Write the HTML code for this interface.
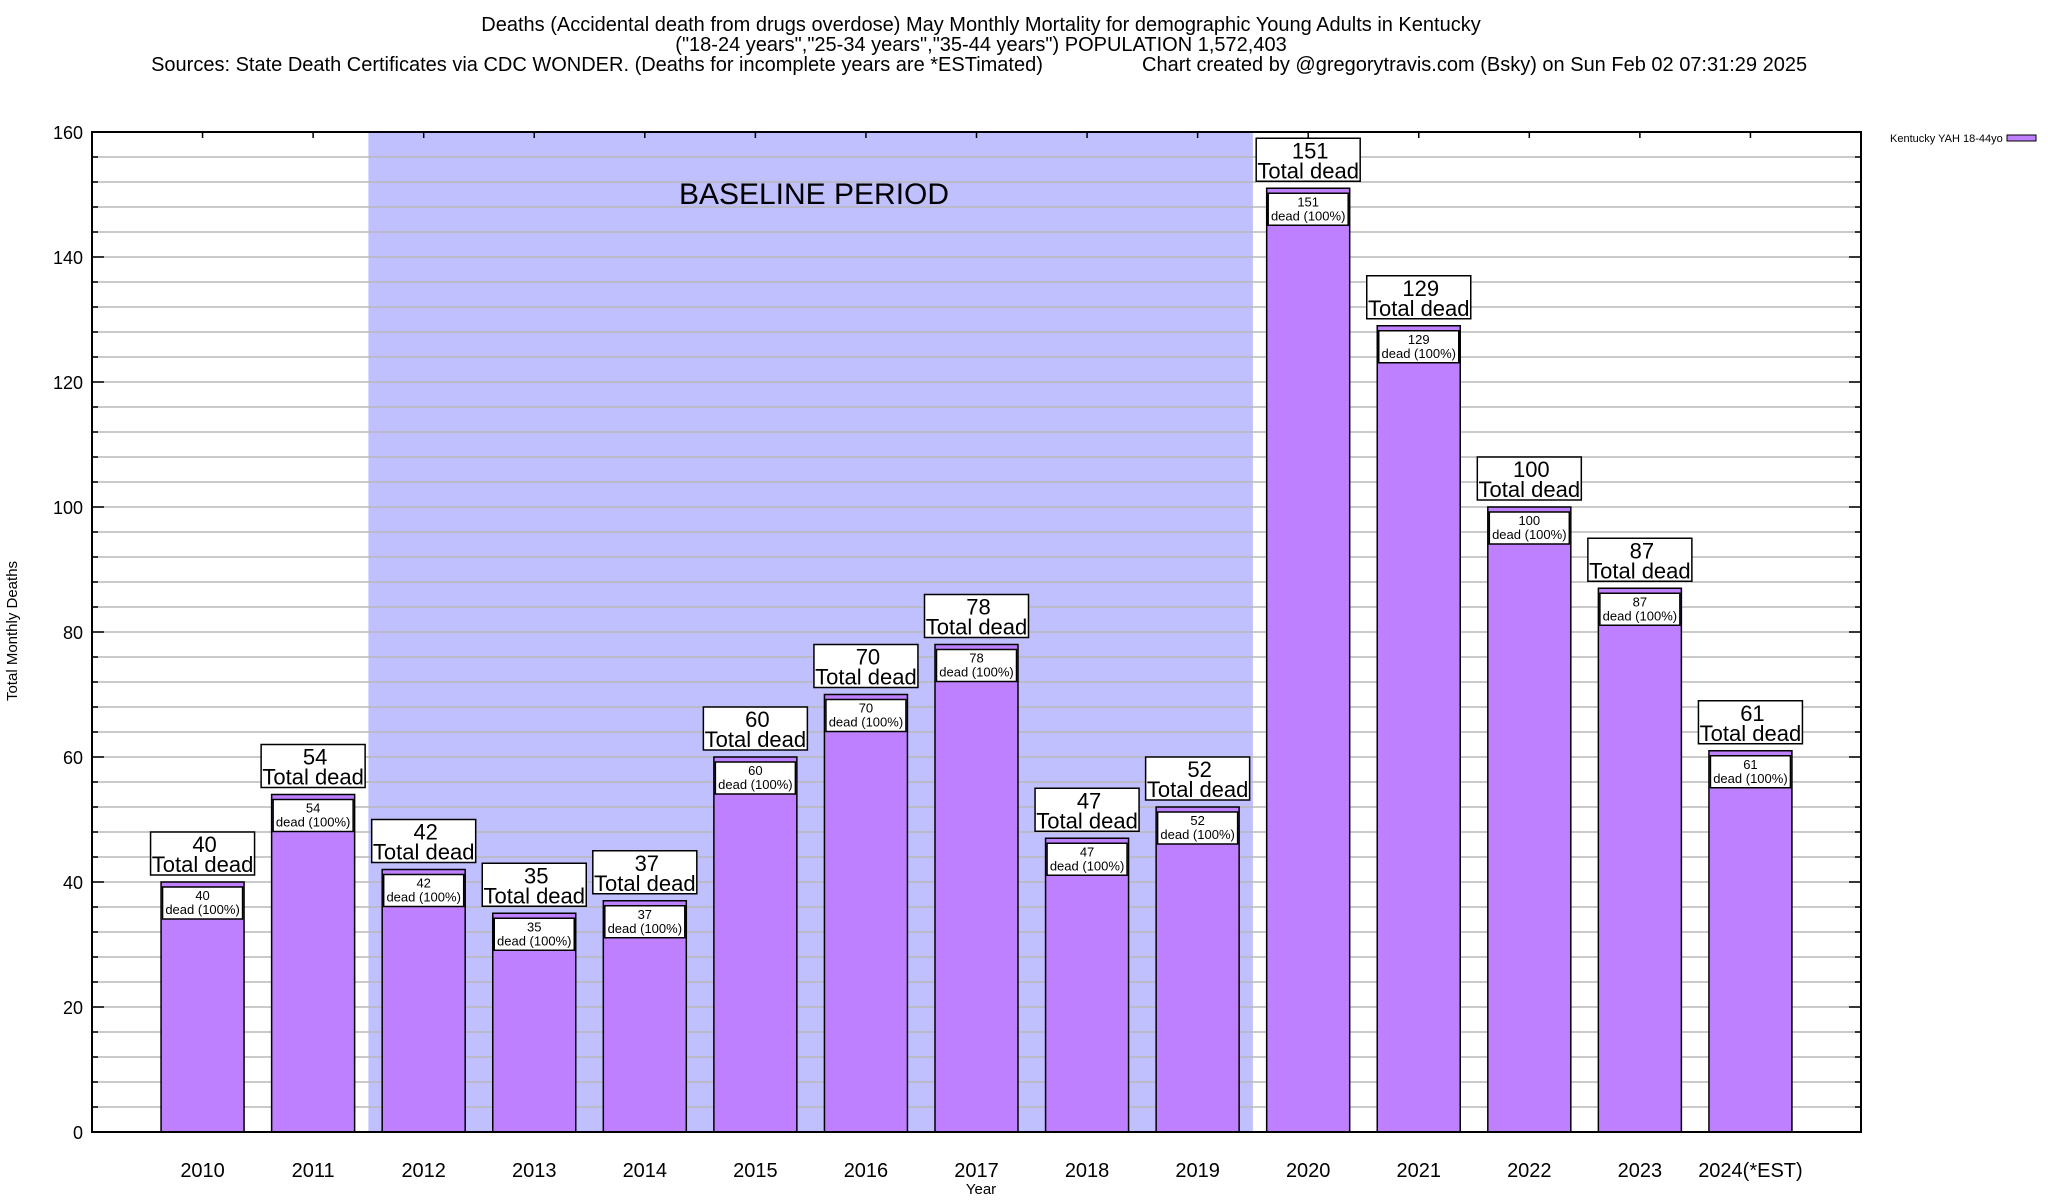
<!DOCTYPE html>
<html><head><meta charset="utf-8"><style>
html,body{margin:0;padding:0;background:#fff;}
svg{display:block;font-family:"Liberation Sans",Arial,sans-serif;}
</style></head><body>
<svg id="chart" width="2048" height="1200" viewBox="0 0 2048 1200" xmlns="http://www.w3.org/2000/svg">
<g font-size="20" text-anchor="middle" fill="#000">
<text x="981" y="31">Deaths (Accidental death from drugs overdose) May Monthly Mortality for demographic Young Adults in Kentucky</text>
<text x="981" y="51">("18-24 years","25-34 years","35-44 years") POPULATION 1,572,403</text>
<text x="597" y="71">Sources: State Death Certificates via CDC WONDER. (Deaths for incomplete years are *ESTimated)</text>
<text x="1142" y="71" text-anchor="start">Chart created by @gregorytravis.com (Bsky) on Sun Feb 02 07:31:29 2025</text>
</g>
<g id="grid"></g>
<g id="marks"></g>
<rect x="92" y="132" width="1769" height="1000" fill="none" stroke="#000" stroke-width="2"/>
<g id="axes"></g>
<text x="17" y="631" font-size="15" text-anchor="middle" transform="rotate(-90 17 631)">Total Monthly Deaths</text>
<text x="981" y="1194" font-size="15" text-anchor="middle">Year</text>
<g>
<text x="1890" y="142" font-size="11">Kentucky YAH 18-44yo</text>
<rect x="2007" y="135" width="29" height="6" fill="#bf80ff" stroke="#000"/>
</g>
</svg>
<script>
const categories=["2010","2011","2012","2013","2014","2015","2016","2017","2018","2019","2020","2021","2022","2023","2024(*EST)"];
const deaths=[40,54,42,35,37,60,70,78,47,52,151,129,100,87,61];
const yTicks=[0,20,40,60,80,100,120,140,160];
const baselineStart=2,baselineEnd=9;
const NS="http://www.w3.org/2000/svg";
const L=92,R=1861,T=132,B=1132,xmin=-1,xmax=15,ymax=160;
function sx(v){return L+(v-xmin)/(xmax-xmin)*(R-L);}
function sy(v){return B-v/ymax*(B-T);}
function mk(tag,attrs,parent){const e=document.createElementNS(NS,tag);for(const k in attrs)e.setAttribute(k,attrs[k]);parent.appendChild(e);return e;}
const grid=document.getElementById('grid'),marks=document.getElementById('marks'),axes=document.getElementById('axes');
const band=mk('rect',{x:sx(baselineStart-0.5),y:T,width:sx(baselineEnd+0.5)-sx(baselineStart-0.5),height:B-T,fill:'#c0c0ff'},grid);


const bt=mk('text',{x:814,y:204,'font-size':30,'text-anchor':'middle'},grid);bt.textContent='BASELINE PERIOD';


for(let v=0;v<=ymax;v+=4){
  if(v>0&&v<ymax){const g=mk('line',{x1:L,x2:R,y1:sy(v),y2:sy(v),stroke:'#b8b8b8','stroke-width':1.5},grid);
  
  }
  const len=(v%20===0)?12:6;
  mk('line',{x1:L,x2:L+len,y1:sy(v),y2:sy(v),stroke:'#000','stroke-width':1.5},axes);
  mk('line',{x1:R-len,x2:R,y1:sy(v),y2:sy(v),stroke:'#000','stroke-width':1.5},axes);
}
yTicks.forEach(v=>{const t=mk('text',{x:83,y:sy(v)+7,'font-size':18,'text-anchor':'end'},axes);t.textContent=v;

});
categories.forEach((c,i)=>{
  const cx=sx(i),v=deaths[i],top=sy(v),w=83;
  mk('line',{x1:cx,x2:cx,y1:T,y2:T+6,stroke:'#000','stroke-width':1.5},axes);
  const t=mk('text',{x:cx,y:1177,'font-size':20,'text-anchor':'middle'},axes);t.textContent=c;
  
  
  const g=mk('g',{},marks);
  
  
  mk('rect',{x:cx-w/2,y:top,width:w,height:B-top,fill:'#bf80ff',stroke:'#000','stroke-width':1.5},g);
  mk('rect',{x:cx-40,y:top+5,width:80,height:32,fill:'#fff',stroke:'#000','stroke-width':1.5},g);
  const a=mk('text',{x:cx,y:top+18,'font-size':13,'text-anchor':'middle'},g);a.textContent=v;
  const b=mk('text',{x:cx,y:top+32,'font-size':13,'text-anchor':'middle'},g);b.textContent='dead (100%)';
  const bx=mk('rect',{x:cx-52,y:top-50,width:104,height:43,fill:'#fff',stroke:'#000','stroke-width':1.5},g);
  
  
  const c1=mk('text',{x:cx+2,y:top-30,'font-size':22,'text-anchor':'middle'},g);c1.textContent=v;
  const c2=mk('text',{x:cx,y:top-10,'font-size':22,'text-anchor':'middle'},g);c2.textContent='Total dead';
});
</script>
</body></html>
